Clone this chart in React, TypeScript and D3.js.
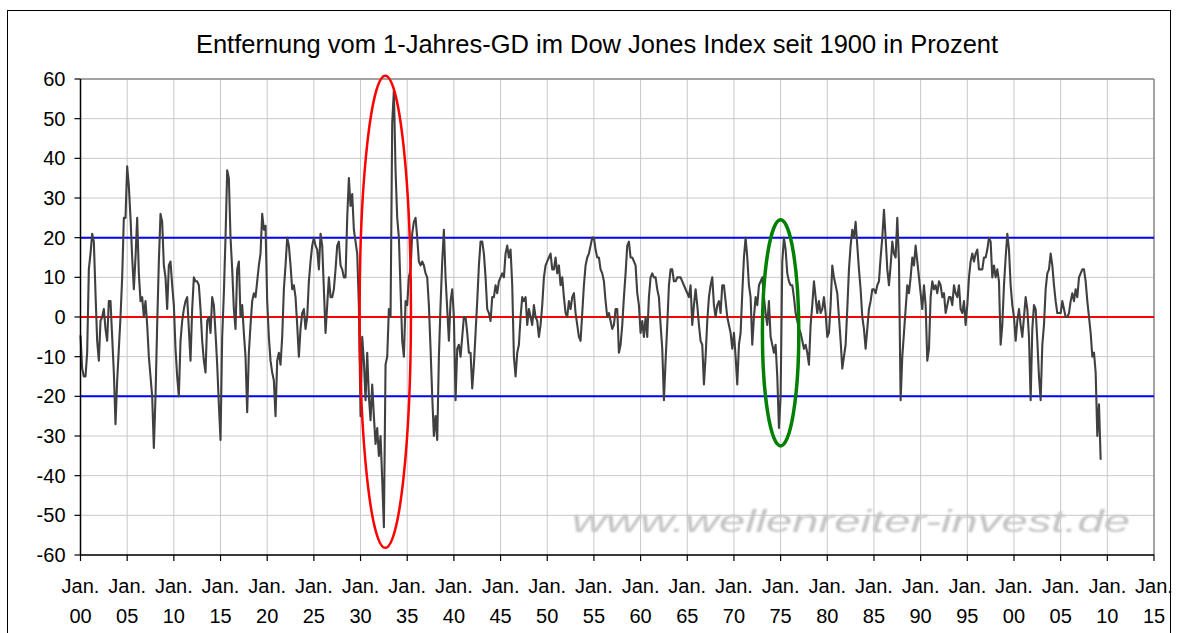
import * as d3 from "d3";

const title = "Entfernung vom 1-Jahres-GD im Dow Jones Index seit 1900 in Prozent";
const watermark = "www.wellenreiter-invest.de";

// distance from the 1-year moving average (%), ~28 readings per 5-year block
const blockStarts = [1900, 1905, 1910, 1915, 1920, 1925, 1930, 1935, 1940, 1945, 1950, 1955, 1960, 1965, 1970, 1975, 1980, 1985, 1990, 1995, 2000, 2005];
const perBlock = 28;

const v1900 = [-4.6, -13, -15, -15, -9, 12, 16, 21, 19, 6, -6, -11, -1, 0, 2, -3, -6, 4, 4, -5, -14, -27, -16, -8, 0, 10, 25, 25];
const v1905 = [38, 33, 25, 15, 7, 15, 25, 11, 4, 5, 0, 4, -2, -10, -15, -20, -33, -20, -2, 14, 26, 24, 13, 10, 2, 13, 14, 8];
const v1910 = [3, -8, -15, -20, -6, -1, 2, 4, 5, -3, -11, 2, 10, 9, 9, 8, 2, -6, -11, -14, -1, 0, -4, 5, 3, -4, -12, -22];
const v1915 = [-31, -5, 6, 20, 37, 35, 20, 12, 2, -3, 12, 14, 0, 3, -4, -10, -24, -9, -2, 4, 6, 5, 9, 13, 16, 26, 22, 23];
const v1920 = [4, -5, -11, -14, -16, -25, -11, -9, -12, -5, 7, 13, 20, 18, 13, 7, 8, 5, -2, -10, -3, 1, 2, -3, 0, 9, 14, 18];
const v1925 = [20, 18, 17, 12, 21, 18, 7, -4, 3, 10, 5, 5, 7, 12, 18, 19, 13, 12, 10, 10, 25, 35, 28, 31, 22, 19, 16, 3];
const v1930 = [-25, -5, -11, -21, -9, -20, -26, -17, -25, -32, -28, -35, -30, -41, -53, -12, -10, 2, 0, 49, 57, 37, 25, 20, 7, -6, -10, 4];
const v1935 = [3, 10, 12, 21, 24, 25, 20, 14, 13, 14, 13, 11, 10, 3, -8, -20, -30, -25, -31, -10, 3, 14, 22, 10, 2, -6, 4, 7];
const v1940 = [0, -21, -8, -7, -10, -5, 0, 0, -4, -9, -9, -18, -12, -4, 4, 13, 19, 19, 16, 10, 2, 1, -1, 5, 5, 8, 6, 9];
const v1945 = [10, 11, 10, 16, 18, 15, 17, 8, -10, -15, -9, -7, 0, 5, 4, 5, -2, 2, 0, -2, 3, 0, -1, -5, -2, 3, 10, 13];
const v1950 = [14, 15, 16, 12, 12, 15, 11, 13, 8, 10, 5, 1, 0, 4, 2, 5, 6, 1, -2, -5, -6, 1, 8, 13, 15, 16, 18, 20];
const v1955 = [20, 17, 15, 15, 12, 11, 9, 4, 0, 1, -1, -3, -2, 2, 2, -9, -7, -2, 5, 11, 18, 19, 15, 15, 14, 13, 6, 3];
const v1960 = [-4, -1, -5, 0, -5, 5, 10, 11, 10, 10, 7, 5, -2, -8, -21, -11, -2, 8, 12, 12, 9, 9, 10, 10, 10, 9, 8, 7];
const v1965 = [6, 5, 8, -2, 3, 7, 3, -2, -6, -7, -17, -10, -1, 5, 8, 10, 3, 0, 3, 4, 1, 8, 8, 4, 0, -2, -4, -8];
const v1970 = [-4, -10, -17, -7, -4, 6, 15, 20, 15, 8, 5, -7, 0, 5, 3, 8, 9, 10, 5, 1, -2, 4, -5, -7, -9, -7, -15, -28];
const v1975 = [-20, 14, 20, 17, 11, 9, 8, 8, 5, 1, -1, -3, -4, -6, -8, -7, -9, -12, -2, 3, 9, 5, 1, 4, 1, 2, 5, 1];
const v1980 = [-5, -4, 3, 13, 10, 8, 6, 0, -6, -13, -10, -7, 2, 12, 18, 22, 20, 24, 18, 12, 7, 0, -3, -8, -3, 2, 4, 7];
const v1985 = [7, 6, 8, 9, 15, 20, 27, 20, 12, 8, 13, 19, 16, 15, 25, 14, -21, -10, -4, 2, 8, 6, 10, 15, 13, 18, 14, 10];
const v1990 = [6, 2, 8, 3, -11, -8, 5, 9, 7, 8, 6, 9, 8, 5, 6, 1, 3, 5, 5, 3, 8, 6, 5, 8, 2, 1, 4, -2];
const v1995 = [3, 10, 14, 16, 14, 16, 17, 12, 12, 12, 15, 15, 17, 20, 19, 10, 13, 10, 12, 9, -7, -2, 8, 15, 21, 17, 8, 3];
const v2000 = [0, -6, -1, 2, -2, -5, 0, 5, 2, -5, -21, -3, 3, 2, -6, -15, -21, -7, -2, 7, 11, 12, 16, 13, 8, 4, 1, 1];
const v2005 = [1, 4, 2, 0, 0, 1, 4, 6, 4, 7, 5, 10, 11, 12, 12, 9, 4, 0, -4, -10, -9, -14, -30, -22, -36];

const blocks = [v1900, v1905, v1910, v1915, v1920, v1925, v1930, v1935, v1940, v1945, v1950, v1955, v1960, v1965, v1970, v1975, v1980, v1985, v1990, v1995, v2000, v2005];

const yTicks = d3.range(-60, 61, 10);
const xTicks = d3.range(1900, 2016, 5);
const bandLines = [20, -20];

// highlighted periods (center year, center value, radius in years / percent)
const redMark = { year: 1932.65, value: 1.3, rYears: 2.75, rValue: 59.5 };
const greenMark = { year: 1975.0, value: -4, rYears: 1.95, rValue: 28.5 };

const W = 1177;
const H = 633;
const font = "'Liberation Sans', Arial, sans-serif";

export default function App() {
  const series = blocks.flatMap((vals, b) =>
    vals.map((v, i) => ({ t: blockStarts[b] + (i * 5) / perBlock, v }))
  );

  const x = d3.scaleLinear().domain([1900, 2015]).range([80.5, 1154]);
  const y = d3.scaleLinear().domain([-60, 60]).range([555, 79]);

  const line = d3
    .line<{ t: number; v: number }>()
    .x((d) => x(d.t))
    .y((d) => y(d.v));

  const ellipse = (m: typeof redMark) => ({
    cx: x(m.year),
    cy: y(m.value),
    rx: x(m.year + m.rYears) - x(m.year),
    ry: y(m.value) - y(m.value + m.rValue),
  });
  const red = ellipse(redMark);
  const green = ellipse(greenMark);

  const [x0, x1] = x.range();
  const [y0, y1] = y.range();

  return (
    <svg
      width={W}
      height={H}
      style={{ position: "absolute", left: 0, top: 0, background: "#fff" }}
      fontFamily={font}
    >
      <defs>
        <filter id="soft" x="-5%" y="-30%" width="110%" height="160%">
          <feGaussianBlur stdDeviation="1.2" />
        </filter>
      </defs>
      <rect x={0} y={0} width={W} height={H} fill="#fff" />
      <rect x={7.5} y={10.5} width={1163} height={640} fill="none" stroke="#000" strokeWidth={1} />

      <text x={597} y={53} textAnchor="middle" fontSize={25.5} fill="#000">
        {title}
      </text>

      {/* watermark sits behind the grid */}
      <text
        x={572}
        y={532}
        fontSize={32}
        fontStyle="italic"
        fill="#c2c2c2"
        textLength={558}
        lengthAdjust="spacingAndGlyphs"
        filter="url(#soft)"
      >
        {watermark}
      </text>

      {/* grid */}
      {yTicks.map((t) => (
        <line key={"gy" + t} x1={x0} x2={x1} y1={y(t)} y2={y(t)} stroke="#c8c8c8" strokeWidth={1} />
      ))}
      {xTicks.map((t) => (
        <line key={"gx" + t} x1={x(t)} x2={x(t)} y1={y1} y2={y0} stroke="#c8c8c8" strokeWidth={1} />
      ))}
      <line x1={x0} x2={x1} y1={y1} y2={y1} stroke="#8c8c8c" strokeWidth={1.5} />
      <line x1={x1} x2={x1} y1={y1} y2={y0} stroke="#8c8c8c" strokeWidth={1.5} />

      {bandLines.map((b) => (
        <line key={"b" + b} x1={x0} x2={x1} y1={y(b)} y2={y(b)} stroke="#0000ff" strokeWidth={2} />
      ))}
      <line x1={x0} x2={x1} y1={y(0)} y2={y(0)} stroke="#ff0000" strokeWidth={2} />

      <path d={line(series) ?? ""} fill="none" stroke="#404040" strokeWidth={2.1} strokeLinejoin="round" />

      <ellipse cx={red.cx} cy={red.cy} rx={red.rx} ry={red.ry} fill="none" stroke="#ff0000" strokeWidth={2.5} />
      <ellipse cx={green.cx} cy={green.cy} rx={green.rx} ry={green.ry} fill="none" stroke="#008000" strokeWidth={3.5} />

      {/* axes */}
      <line x1={x0} x2={x0} y1={y1} y2={y0} stroke="#000" strokeWidth={1.5} />
      <line x1={x0} x2={x1} y1={y0} y2={y0} stroke="#000" strokeWidth={1.5} />
      {yTicks.map((t) => (
        <g key={"ty" + t}>
          <line x1={x0 - 6} x2={x0} y1={y(t)} y2={y(t)} stroke="#000" strokeWidth={1.2} />
          <text x={x0 - 15} y={y(t)} dy="0.35em" textAnchor="end" fontSize={20} fill="#000">
            {t}
          </text>
        </g>
      ))}
      {xTicks.map((t) => (
        <g key={"tx" + t}>
          <line x1={x(t)} x2={x(t)} y1={y0} y2={y0 + 6} stroke="#000" strokeWidth={1.2} />
          <text x={x(t)} y={593} textAnchor="middle" fontSize={20} fill="#000">
            Jan.
          </text>
          <text x={x(t)} y={623} textAnchor="middle" fontSize={20} fill="#000">
            {String(t % 100).padStart(2, "0")}
          </text>
        </g>
      ))}
    </svg>
  );
}
